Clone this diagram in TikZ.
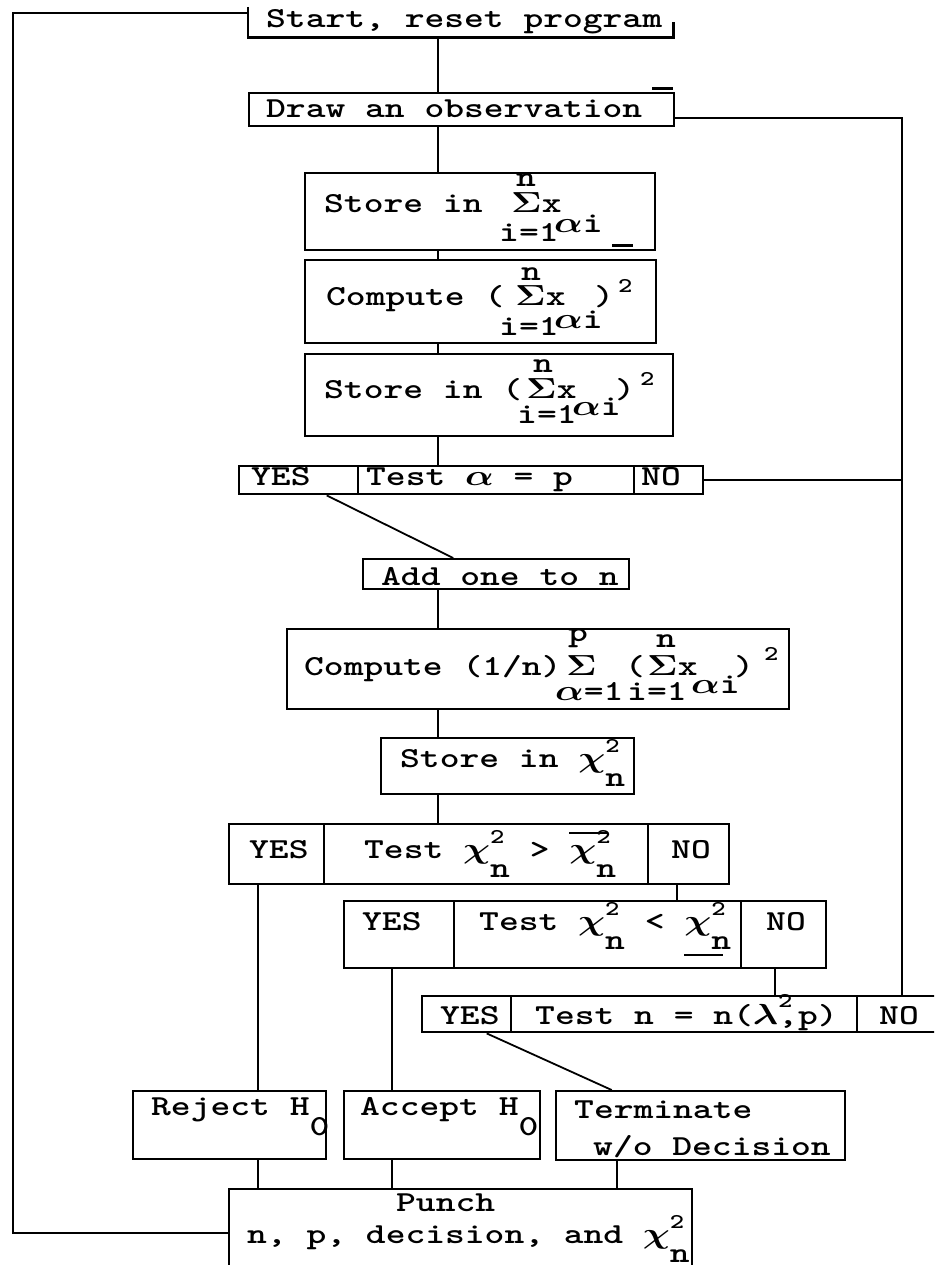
\RequirePackage{fix-cm}
\documentclass[tikz,border=0pt]{standalone}
\usetikzlibrary{calc}
\newcommand\tw[1]{\scalebox{1.3}[1]{#1}}
\newcommand\gk[1]{{\boldmath$#1$}}
\newcommand\smtwo{{\fontsize{21}{21}\selectfont 2}}
\newcommand\chisq{\gk{\chi}\rlap{\raisebox{15pt}{\smtwo}}\raisebox{-19pt}{n}}
\newcommand\chibar{\rlap{\rule[24pt]{30pt}{2pt}}\chisq}
\newcommand\chiund{\rlap{\rule[-26pt]{30pt}{2pt}}\chisq}
\newcommand\bSig{\gk{\mathbf{\Sigma}}}
\tikzset{
  bx/.style={draw, line width=2.4pt, inner sep=0pt, anchor=north west},
  bxn/.style={inner sep=0pt, anchor=north west},
  bxl/.style={line width=2.4pt},
  ln/.style={line width=1.8pt},
  mk/.style={line width=3pt},
  t/.style={anchor=base west, inner sep=0pt, font=\fontsize{29}{34}\selectfont\ttfamily\bfseries}
}
\begin{document}
\begin{tikzpicture}[x=1pt,y=-1pt]
\fill[white] (0,0) rectangle (934,1265);
\useasboundingbox (0,0) rectangle (934,1265);
\clip (0,0) rectangle (934,1265);

% ---------- Start ----------
\node[bxn, minimum width=425pt, minimum height=30pt] (start) at (248,7) {};
\draw[bxl] (start.north west) -- (start.south west) -- (start.south east) -- ++(0,-15);
\node[t] (start-t) at (266,28) {\tw{Start, reset program}};

% ---------- Draw an observation ----------
\node[bx, minimum width=425pt, minimum height=33pt] (draw) at (248,92) {};
\node[t] (draw-t) at (266,118) {\tw{Draw an observation}};
\draw[mk] (652,89) -- (673,89);

% ---------- Store in sum ----------
\node[bx, minimum width=350pt, minimum height=77pt] (st1) at (304,172) {};
\node[t] (st1-a) at (324,213) {\tw{Store in}};
\node[t] (st1-n) at (516,187) {\tw{n}};
\node[t] (st1-s) at (511,213) {\tw{\bSig x}};
\node[t] (st1-i) at (499,242) {\tw{i=1}};
\node[t] (st1-ai) at (554,233) {\tw{\gk{\alpha}i}};
\draw[mk] (612,246) -- (633,246);

% ---------- Compute (sum)^2 ----------
\node[bx, minimum width=351pt, minimum height=83pt] (cp1) at (304,259) {};
\node[t] (cp1-a) at (326,305) {\tw{Compute (}};
\node[t] (cp1-n) at (521,280) {\tw{n}};
\node[t] (cp1-s) at (515,305) {\tw{\bSig x}};
\node[t] (cp1-i) at (499,335) {\tw{i=1}};
\node[t] (cp1-ai) at (554,328) {\tw{\gk{\alpha}i}};
\node[t] (cp1-p) at (594,305) {\tw{)}};
\node[t] (cp1-2) at (618,292) {\tw{\smtwo}};

% ---------- Store in (sum)^2 ----------
\node[bx, minimum width=368pt, minimum height=82pt] (st2) at (304,353) {};
\node[t] (st2-a) at (324,398) {\tw{Store in (}};
\node[t] (st2-n) at (533,372) {\tw{n}};
\node[t] (st2-s) at (526,398) {\tw{\bSig x}};
\node[t] (st2-i) at (517,423) {\tw{i=1}};
\node[t] (st2-ai) at (572,415) {\tw{\gk{\alpha}i}};
\node[t] (st2-p) at (615,398) {\tw{)}};
\node[t] (st2-2) at (640,385) {\tw{\smtwo}};

% ---------- Test alpha = p ----------
\node[bx, minimum width=119pt, minimum height=28pt] (t1y) at (238,465) {};
\node[bx, minimum width=276pt, minimum height=28pt] (t1t) at (357,465) {};
\node[bx, minimum width=69pt, minimum height=28pt] (t1n) at (633,465) {};
\node[t] (t1y-t) at (251,485) {\tw{YES}};
\node[t] (t1t-t) at (366,485) {\tw{Test \gk{\alpha} = p}};
\node[t] (t1n-t) at (641,485) {\tw{NO}};

% ---------- Add one to n ----------
\node[bx, minimum width=266pt, minimum height=30pt] (add) at (362,558) {};
\node[t] (add-t) at (381,585) {\tw{Add one to n}};

% ---------- Compute (1/n) ... ----------
\node[bx, minimum width=502pt, minimum height=80pt] (cp2) at (286,628) {};
\node[t] (cp2-a) at (304,675) {\tw{Compute (1/n)}};
\node[t] (cp2-p) at (568,641) {\tw{p}};
\node[t] (cp2-S) at (566,675) {\tw{\bSig}};
\node[t] (cp2-a1) at (555,700) {\tw{\gk{\alpha}=1}};
\node[t] (cp2-lp) at (625,675) {\tw{(}};
\node[t] (cp2-n) at (656,647) {\tw{n}};
\node[t] (cp2-s) at (647,675) {\tw{\bSig x}};
\node[t] (cp2-i) at (627,700) {\tw{i=1}};
\node[t] (cp2-ai) at (691,693) {\tw{\gk{\alpha}i}};
\node[t] (cp2-rp) at (734,675) {\tw{)}};
\node[t] (cp2-2) at (764,660) {\tw{\smtwo}};

% ---------- Store in chi^2 ----------
\node[bx, minimum width=253pt, minimum height=56pt] (stchi) at (380,737) {};
\node[t] (stchi-t) at (400,767) {\tw{Store in \chisq}};

% ---------- Test chi^2 > ----------
\node[bx, minimum width=95pt, minimum height=60pt] (t2y) at (228,823) {};
\node[bx, minimum width=324pt, minimum height=60pt] (t2t) at (323,823) {};
\node[bx, minimum width=81pt, minimum height=60pt] (t2n) at (647,823) {};
\node[t] (t2y-t) at (249,858) {\tw{YES}};
\node[t] (t2t-t) at (364,858) {\tw{Test \chisq{} > \chibar}};
\node[t] (t2n-t) at (671,858) {\tw{NO}};

% ---------- Test chi^2 < ----------
\node[bx, minimum width=110pt, minimum height=67pt] (uy) at (343,900) {};
\node[bx, minimum width=287pt, minimum height=67pt] (ut) at (453,900) {};
\node[bx, minimum width=85pt, minimum height=67pt] (un) at (740,900) {};
\node[t] (uy-t) at (362,930) {\tw{YES}};
\node[t] (ut-t) at (479,930) {\tw{Test \chisq{} < \chiund}};
\node[t] (un-t) at (766,930) {\tw{NO}};

% ---------- Test n = n(lambda^2,p) ----------
\node[bx, minimum width=89pt, minimum height=36pt] (t3y) at (421,995) {};
\node[bx, minimum width=346pt, minimum height=36pt] (t3t) at (510,995) {};
\node[bx, minimum width=100pt, minimum height=36pt] (t3n) at (856,995) {};
\node[t] (t3y-t) at (440,1024) {\tw{YES}};
\node[t] (t3t-t) at (535,1024) {\tw{Test n = n(\gk{\lambda}\rlap{\raisebox{17pt}{\smtwo}},p)}};
\node[t] (t3n-t) at (879,1024) {\tw{NO}};

% ---------- Outcomes ----------
\node[bx, minimum width=193pt, minimum height=68pt] (rej) at (132,1090) {};
\node[t] (rej-t) at (151,1115) {\tw{Reject H\raisebox{-20pt}{0}}};
\node[bx, minimum width=196pt, minimum height=68pt] (acc) at (343,1090) {};
\node[t] (acc-t) at (360,1115) {\tw{Accept H\raisebox{-20pt}{0}}};
\node[bx, minimum width=289pt, minimum height=69pt] (term) at (555,1090) {};
\node[t] (term-t1) at (574,1118) {\tw{Terminate}};
\node[t] (term-t2) at (593,1155) {\tw{w/o Decision}};

% ---------- Punch ----------
\node[bx, minimum width=463pt, minimum height=100pt] (punch) at (228,1188) {};
\node[t] (punch-t1) at (396,1211) {\tw{Punch}};
\node[t] (punch-t2) at (247,1243) {\tw{n, p, decision, and\hspace{15pt}\chisq}};

% ---------- Connectors ----------
\coordinate (cx) at (438,0);
\coordinate (L1) at (13,13);
\coordinate (L2) at (13,1233);
\coordinate (R) at (902,118);
\coordinate (cA) at (258,0);
\coordinate (cB) at (392,0);
\coordinate (cC) at (677,0);
\coordinate (cD) at (775,0);
\coordinate (cE) at (617,0);

\draw[ln] (start.west |- L1) -- (L1) -- (L2) -- (L2 -| punch.west);
\draw[ln] (start.south -| cx) -- (draw.north -| cx);
\draw[ln] (draw.south -| cx) -- (st1.north -| cx);
\draw[ln] (st1.south -| cx) -- (cp1.north -| cx);
\draw[ln] (cp1.south -| cx) -- (st2.north -| cx);
\draw[ln] (st2.south -| cx) -- (t1t.north -| cx);
\draw[ln] (draw.east |- R) -- (R) -- (R |- t3n.north);
\draw[ln] (t1n.east) -- (t1n.east -| R);
\draw[ln] ($(t1y.south)+(28,0)$) -- ($(add.north)+(-43,0)$);
\draw[ln] (add.south -| cx) -- (cp2.north -| cx);
\draw[ln] (cp2.south -| cx) -- (stchi.north -| cx);
\draw[ln] (stchi.south -| cx) -- (t2t.north -| cx);
\draw[ln] (t2y.south -| cA) -- (rej.north -| cA);
\draw[ln] (t2n.south -| cC) -- (ut.north -| cC);
\draw[ln] (uy.south -| cB) -- (acc.north -| cB);
\draw[ln] (un.south -| cD) -- (t3t.north -| cD);
\draw[ln] ($(t3y.south)+(20,0)$) -- ($(term.north)+(-89,0)$);
\draw[ln] (rej.south -| cA) -- (punch.north -| cA);
\draw[ln] (acc.south -| cB) -- (punch.north -| cB);
\draw[ln] (term.south -| cE) -- (punch.north -| cE);
\end{tikzpicture}
\end{document}
